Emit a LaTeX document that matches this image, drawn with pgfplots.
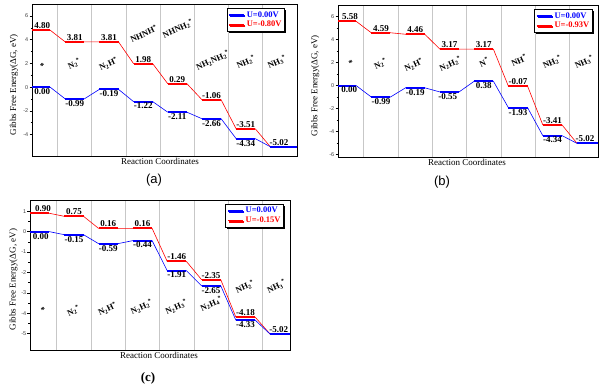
\documentclass[border=0pt]{standalone}
\usepackage{fontspec}
\setmainfont{Liberation Serif}
\newfontfamily\sansf{Liberation Sans}
\usepackage{pgfplots}
\pgfplotsset{compat=1.18}
\usetikzlibrary{shadows}

\newcommand{\sub}[1]{\textsubscript{#1}}
\newcommand{\st}{\textsuperscript{*}}

\pgfplotsset{
  fe/.style={
    scale only axis, anchor=south west,
    xtick={1.5,2.5,3.5,4.5,5.5,6.5,7.5}, xticklabels={},
    xmajorgrids, major x grid style={black!22, line width=0.8pt},
    x tick style={draw=none},
    ytick pos=left, tick align=outside, minor y tick num=1,
    major tick length=2.5pt, minor tick length=1.5pt,
    y tick style={black, line width=0.5pt},
    axis line style={line width=0.8pt},
    yticklabel style={font=\sansf\fontsize{5.5}{6}\selectfont, text=black!75, inner sep=1pt},
    /pgf/number format/assume math mode=true,
    label style={font=\fontsize{9}{10}\selectfont},
    ylabel style={anchor=center},
    xlabel style={anchor=north, inner sep=0pt},
    xlabel={Reaction Coordinates}, ylabel={Gibbs Free Energy(ΔG, eV)},
    legend style={anchor=north east, draw=black, line width=0.9pt,
      font=\bfseries\fontsize{8.5}{9}\selectfont,
      drop shadow={shadow xshift=1.5pt, shadow yshift=-1.5pt, fill=black, opacity=1},
      inner sep=1pt, row sep=-1.5pt, fill=white},
    legend cell align=left, reverse legend,
    legend image code/.code={\draw[#1, line width=1.8pt] (0,0) -- (15pt,0);},
  },
  lev/.style={line width=2pt, unbounded coords=jump},
  con/.style={line width=0.6pt},
}
\tikzset{
  vb/.style={font=\bfseries\fontsize{9}{10}\selectfont, anchor=north, inner sep=1.2pt},
  va/.style={font=\bfseries\fontsize{9}{10}\selectfont, anchor=south, inner sep=1.2pt},
  sp/.style={font=\bfseries\fontsize{8.5}{9}\selectfont, rotate=25},
}

\begin{document}
\begin{tikzpicture}
\useasboundingbox (0,0) rectangle (600pt,386pt);

% ---------------- (a) ----------------
\begin{axis}[fe, at={(32pt,230pt)}, width=265pt, height=152pt,
  xmin=0.75, xmax=8.5, ymin=-5.8, ymax=7, ytick={-4,-2,0,2,4,6},
  ylabel style={at={(axis description cs:-0.068,0.47)}},
  xlabel style={at={(axis description cs:0.483,-0.012)}},
  legend style={at={(0.955,0.974)}}]
\addplot[red, con, forget plot] coordinates {(0.75,4.80)(1.28,4.80)(1.72,3.81)(2.28,3.81)(2.72,3.81)(3.28,3.81)(3.72,1.98)(4.28,1.98)(4.72,0.29)(5.28,0.29)(5.72,-1.06)(6.28,-1.06)(6.72,-3.51)(7.28,-3.51)(7.72,-5.02)(8.5,-5.02)};
\addplot[red, lev] coordinates {(0.75,4.80)(1.28,4.80)(1.5,nan)(1.72,3.81)(2.28,3.81)(2.5,nan)(2.72,3.81)(3.28,3.81)(3.5,nan)(3.72,1.98)(4.28,1.98)(4.5,nan)(4.72,0.29)(5.28,0.29)(5.5,nan)(5.72,-1.06)(6.28,-1.06)(6.5,nan)(6.72,-3.51)(7.28,-3.51)(7.5,nan)(7.72,-5.02)(8.5,-5.02)};
\addlegendentry{\textcolor{red}{U=-0.80V}}
\addplot[blue, con, forget plot] coordinates {(0.75,0.00)(1.28,0.00)(1.72,-0.99)(2.28,-0.99)(2.72,-0.19)(3.28,-0.19)(3.72,-1.22)(4.28,-1.22)(4.72,-2.11)(5.28,-2.11)(5.72,-2.66)(6.28,-2.66)(6.72,-4.34)(7.28,-4.34)(7.72,-5.02)(8.5,-5.02)};
\addplot[blue, lev] coordinates {(0.75,0.00)(1.28,0.00)(1.5,nan)(1.72,-0.99)(2.28,-0.99)(2.5,nan)(2.72,-0.19)(3.28,-0.19)(3.5,nan)(3.72,-1.22)(4.28,-1.22)(4.5,nan)(4.72,-2.11)(5.28,-2.11)(5.5,nan)(5.72,-2.66)(6.28,-2.66)(6.5,nan)(6.72,-4.34)(7.28,-4.34)(7.5,nan)(7.72,-5.02)(8.5,-5.02)};
\addlegendentry{\textcolor{blue}{U=0.00V}}
\node[va] at (1.05,4.80) {4.80};
\node[va] at (2,3.81) {3.81};
\node[va] at (3,3.81) {3.81};
\node[va] at (4,1.98) {1.98};
\node[va] at (5,0.29) {0.29};
\node[va] at (6,-1.06) {-1.06};
\node[va] at (7,-3.51) {-3.51};
\node[va] at (7.97,-5.02) {-5.02};
\node[vb] at (1.05,0) {0.00};
\node[vb] at (2,-0.99) {-0.99};
\node[vb] at (3,-0.19) {-0.19};
\node[vb] at (4,-1.22) {-1.22};
\node[vb] at (5,-2.11) {-2.11};
\node[vb] at (6,-2.66) {-2.66};
\node[vb] at (7,-4.34) {-4.34};
\node[sp] at (1.06,1.77) {*};
\node[sp] at (1.99,1.95) {N\sub{2}\st};
\node[sp] at (2.99,1.95) {N\sub{2}H\st};
\node[sp] at (4.02,4.5) {NHNH\st};
\node[sp] at (5.02,4.9) {NHNH\sub{2}\st};
\node[sp] at (6.04,2.25) {NH\sub{2}NH\sub{2}\st};
\node[sp] at (7.01,2.1) {NH\sub{2}\st};
\node[sp] at (7.92,2.1) {NH\sub{3}\st};
\end{axis}

% ---------------- (b) ----------------
\begin{axis}[fe, at={(338pt,229pt)}, width=260pt, height=152pt,
  xmin=0.75, xmax=8.33, ymin=-6.2, ymax=7, ytick={-6,-4,-2,0,2,4,6},
  ylabel style={at={(axis description cs:-0.088,0.47)}},
  xlabel style={at={(axis description cs:0.496,-0.012)}},
  legend style={at={(0.98,0.974)}}]
\addplot[red, con, forget plot] coordinates {(0.75,5.58)(1.28,5.58)(1.72,4.59)(2.28,4.59)(2.72,4.46)(3.28,4.46)(3.72,3.17)(4.28,3.17)(4.72,3.17)(5.28,3.17)(5.72,-0.07)(6.28,-0.07)(6.72,-3.41)(7.28,-3.41)(7.72,-5.02)(8.33,-5.02)};
\addplot[red, lev] coordinates {(0.75,5.58)(1.28,5.58)(1.5,nan)(1.72,4.59)(2.28,4.59)(2.5,nan)(2.72,4.46)(3.28,4.46)(3.5,nan)(3.72,3.17)(4.28,3.17)(4.5,nan)(4.72,3.17)(5.28,3.17)(5.5,nan)(5.72,-0.07)(6.28,-0.07)(6.5,nan)(6.72,-3.41)(7.28,-3.41)(7.5,nan)(7.72,-5.02)(8.33,-5.02)};
\addlegendentry{\textcolor{red}{U=-0.93V}}
\addplot[blue, con, forget plot] coordinates {(0.75,0.00)(1.28,0.00)(1.72,-0.99)(2.28,-0.99)(2.72,-0.19)(3.28,-0.19)(3.72,-0.55)(4.28,-0.55)(4.72,0.38)(5.28,0.38)(5.72,-1.93)(6.28,-1.93)(6.72,-4.34)(7.28,-4.34)(7.72,-5.02)(8.33,-5.02)};
\addplot[blue, lev] coordinates {(0.75,0.00)(1.28,0.00)(1.5,nan)(1.72,-0.99)(2.28,-0.99)(2.5,nan)(2.72,-0.19)(3.28,-0.19)(3.5,nan)(3.72,-0.55)(4.28,-0.55)(4.5,nan)(4.72,0.38)(5.28,0.38)(5.5,nan)(5.72,-1.93)(6.28,-1.93)(6.5,nan)(6.72,-4.34)(7.28,-4.34)(7.5,nan)(7.72,-5.02)(8.33,-5.02)};
\addlegendentry{\textcolor{blue}{U=0.00V}}
\node[va] at (1.1,5.58) {5.58};
\node[va] at (2,4.59) {4.59};
\node[va] at (3,4.46) {4.46};
\node[va] at (4,3.17) {3.17};
\node[va] at (5,3.17) {3.17};
\node[va] at (6,-0.07) {-0.07};
\node[va] at (7,-3.41) {-3.41};
\node[va] at (7.95,-5.02) {-5.02};
\node[vb] at (1.08,0) {0.00};
\node[vb] at (2,-0.99) {-0.99};
\node[vb] at (3,-0.19) {-0.19};
\node[vb] at (3.95,-0.55) {-0.55};
\node[vb] at (5,0.38) {0.38};
\node[vb] at (6,-1.93) {-1.93};
\node[vb] at (7,-4.34) {-4.34};
\node[sp] at (1.13,2.0) {*};
\node[sp] at (1.99,1.9) {N\sub{2}\st};
\node[sp] at (2.96,1.8) {N\sub{2}H\st};
\node[sp] at (4.03,1.9) {N\sub{2}H\sub{2}\st};
\node[sp] at (5.01,2.05) {N\st};
\node[sp] at (6.03,2.2) {NH\st};
\node[sp] at (7.0,2.05) {NH\sub{2}\st};
\node[sp] at (7.93,2.05) {NH\sub{3}\st};
\end{axis}

% ---------------- (c) ----------------
\begin{axis}[fe, at={(30pt,36pt)}, width=260pt, height=150pt,
  xmin=0.72, xmax=8.3, ymin=-5.8, ymax=1.55, ytick={-5,-4,-3,-2,-1,0,1},
  ylabel style={at={(axis description cs:-0.064,0.47)}},
  xlabel style={at={(axis description cs:0.496,-0.012)}},
  legend style={at={(0.977,0.975)}}]
\addplot[red, con, forget plot] coordinates {(0.72,0.90)(1.28,0.90)(1.72,0.75)(2.28,0.75)(2.72,0.16)(3.28,0.16)(3.72,0.16)(4.28,0.16)(4.72,-1.46)(5.28,-1.46)(5.72,-2.35)(6.28,-2.35)(6.72,-4.18)(7.28,-4.18)(7.72,-5.02)(8.3,-5.02)};
\addplot[red, lev] coordinates {(0.72,0.90)(1.28,0.90)(1.5,nan)(1.72,0.75)(2.28,0.75)(2.5,nan)(2.72,0.16)(3.28,0.16)(3.5,nan)(3.72,0.16)(4.28,0.16)(4.5,nan)(4.72,-1.46)(5.28,-1.46)(5.5,nan)(5.72,-2.35)(6.28,-2.35)(6.5,nan)(6.72,-4.18)(7.28,-4.18)(7.5,nan)(7.72,-5.02)(8.3,-5.02)};
\addlegendentry{\textcolor{red}{U=-0.15V}}
\addplot[blue, con, forget plot] coordinates {(0.72,0.00)(1.28,0.00)(1.72,-0.15)(2.28,-0.15)(2.72,-0.59)(3.28,-0.59)(3.72,-0.44)(4.28,-0.44)(4.72,-1.91)(5.28,-1.91)(5.72,-2.65)(6.28,-2.65)(6.72,-4.33)(7.28,-4.33)(7.72,-5.02)(8.3,-5.02)};
\addplot[blue, lev] coordinates {(0.72,0.00)(1.28,0.00)(1.5,nan)(1.72,-0.15)(2.28,-0.15)(2.5,nan)(2.72,-0.59)(3.28,-0.59)(3.5,nan)(3.72,-0.44)(4.28,-0.44)(4.5,nan)(4.72,-1.91)(5.28,-1.91)(5.5,nan)(5.72,-2.65)(6.28,-2.65)(6.5,nan)(6.72,-4.33)(7.28,-4.33)(7.5,nan)(7.72,-5.02)(8.3,-5.02)};
\addlegendentry{\textcolor{blue}{U=0.00V}}
\node[va] at (1.1,0.90) {0.90};
\node[va] at (2,0.75) {0.75};
\node[va] at (3,0.16) {0.16};
\node[va] at (4,0.16) {0.16};
\node[va] at (5,-1.46) {-1.46};
\node[va] at (6,-2.35) {-2.35};
\node[va] at (7,-4.18) {-4.18};
\node[va] at (7.97,-5.02) {-5.02};
\node[vb] at (1.03,0) {0.00};
\node[vb] at (2,-0.15) {-0.15};
\node[vb] at (3,-0.59) {-0.59};
\node[vb] at (4,-0.44) {-0.44};
\node[vb] at (5,-1.91) {-1.91};
\node[vb] at (6,-2.65) {-2.65};
\node[vb] at (7,-4.33) {-4.33};
\node[sp] at (1.11,-3.83) {*};
\node[sp] at (1.99,-3.9) {N\sub{2}\st};
\node[sp] at (2.98,-3.8) {N\sub{2}H\st};
\node[sp] at (3.98,-3.7) {N\sub{2}H\sub{2}\st};
\node[sp] at (4.99,-3.7) {N\sub{2}H\sub{3}\st};
\node[sp] at (6.01,-3.55) {N\sub{2}H\sub{4}\st};
\node[sp] at (6.99,-2.7) {NH\sub{2}\st};
\node[sp] at (7.91,-2.7) {NH\sub{3}\st};
\end{axis}

\node[font=\sansf\fontsize{13}{14}\selectfont] at (154pt,206pt) {(a)};
\node[font=\sansf\fontsize{13}{14}\selectfont] at (442pt,204pt) {(b)};
\node[font=\bfseries\fontsize{13}{14}\selectfont] at (148pt,8pt) {(c)};
\end{tikzpicture}
\end{document}
